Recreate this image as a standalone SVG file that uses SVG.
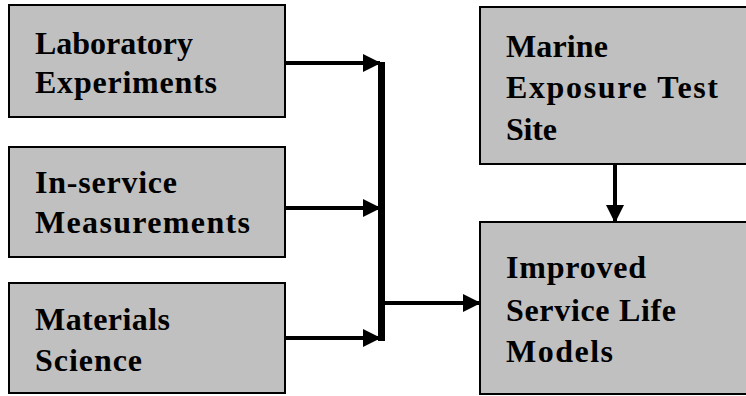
<svg xmlns="http://www.w3.org/2000/svg" width="746" height="396" viewBox="0 0 746 396">
  <style>
    .box { fill: #c0c0c0; stroke: #000; stroke-width: 2; }
    .lbl { font-family: 'Liberation Serif', 'DejaVu Serif', serif; font-weight: 700; font-size: 32px; fill: #000; }
    .conn { stroke: #000; stroke-width: 4; fill: none; }
  </style>
  <defs>
    <marker id="ah" markerUnits="userSpaceOnUse" markerWidth="18" markerHeight="18" viewBox="0 0 18 18" refX="17" refY="9" orient="auto">
      <polygon points="0,0 18,9 0,18" fill="#000"/>
    </marker>
  </defs>
  <rect x="0" y="0" width="746" height="396" fill="#fff"/>

  <g id="lab">
    <rect class="box" x="9" y="5" width="276" height="112"/>
    <text class="lbl" font-family="Liberation Serif, serif" x="35" y="54" textLength="158" lengthAdjust="spacing">Laboratory</text>
    <text class="lbl" font-family="Liberation Serif, serif" x="35" y="93" textLength="182" lengthAdjust="spacing">Experiments</text>
  </g>
  <g id="inservice">
    <rect class="box" x="9" y="147" width="276" height="110"/>
    <text class="lbl" x="35" y="193" textLength="142" lengthAdjust="spacing">In-service</text>
    <text class="lbl" x="35" y="233" textLength="215" lengthAdjust="spacing">Measurements</text>
  </g>
  <g id="materials">
    <rect class="box" x="9" y="283" width="276" height="110"/>
    <text class="lbl" x="35" y="330" textLength="135" lengthAdjust="spacing">Materials</text>
    <text class="lbl" x="35" y="371" textLength="107" lengthAdjust="spacing">Science</text>
  </g>
  <g id="marine">
    <rect class="box" x="480" y="7" width="270" height="157"/>
    <text class="lbl" x="506" y="57" textLength="102" lengthAdjust="spacing">Marine</text>
    <text class="lbl" x="506" y="98" textLength="212" lengthAdjust="spacing">Exposure Test</text>
    <text class="lbl" x="506" y="140" textLength="51" lengthAdjust="spacing">Site</text>
  </g>
  <g id="improved">
    <rect class="box" x="480" y="222" width="270" height="172"/>
    <text class="lbl" x="506" y="278" textLength="140" lengthAdjust="spacing">Improved</text>
    <text class="lbl" x="506" y="321" textLength="170" lengthAdjust="spacing">Service Life</text>
    <text class="lbl" x="506" y="362" textLength="107" lengthAdjust="spacing">Models</text>
  </g>

  <g id="connectors">
    <line class="conn" x1="285" y1="63" x2="380" y2="63" marker-end="url(#ah)"/>
    <line class="conn" x1="285" y1="208" x2="380" y2="208" marker-end="url(#ah)"/>
    <line class="conn" x1="285" y1="338" x2="380" y2="338" marker-end="url(#ah)"/>
    <line x1="381.5" y1="62" x2="381.5" y2="341" stroke="#000" stroke-width="7"/>
    <line class="conn" x1="385" y1="303" x2="480" y2="303" marker-end="url(#ah)"/>
    <line class="conn" x1="615" y1="164" x2="615" y2="222" marker-end="url(#ah)"/>
  </g>
</svg>
